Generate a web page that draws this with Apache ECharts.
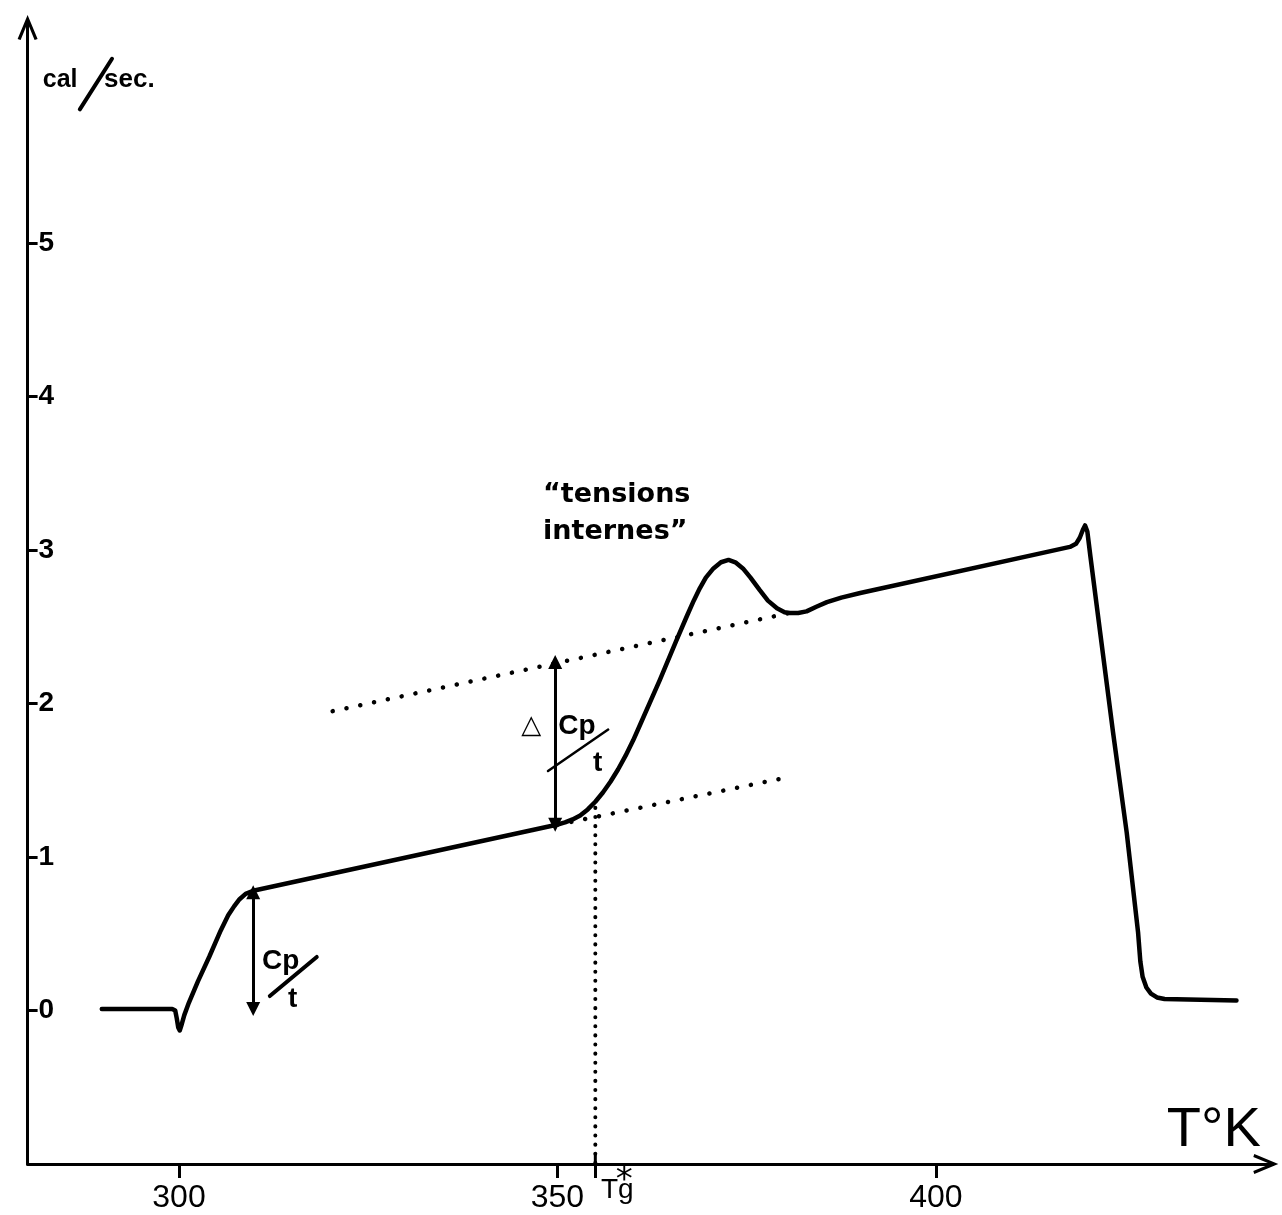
<!DOCTYPE html>
<html>
<head>
<meta charset="utf-8">
<script src="https://cdn.jsdelivr.net/npm/echarts@6/dist/echarts.min.js"></script>
<style>
  html, body { margin: 0; padding: 0; background: #fff; }
  #chart { width: 1282px; height: 1215px; }
</style>
</head>
<body>
<div id="chart"></div>
<script>
// DSC trace: heat flow (cal/sec) against temperature (K)
const temperatureK = [
  289.8, 299.1, 299.5, 299.7, 299.9, 300.1, 300.3, 300.7, 301.3, 302.5, 304.0, 305.5,
  306.5, 307.3, 308.0, 308.8, 309.8, 349.9, 351.0, 352.0, 353.0, 354.0, 355.0, 356.0,
  357.0, 358.0, 359.0, 360.0, 360.9, 363.5, 365.7, 367.1, 368.0, 368.8, 369.6, 370.6,
  371.6, 372.6, 373.5, 374.5, 375.5, 376.7, 377.8, 379.0, 380.0, 380.7, 381.8, 382.9,
  384.2, 385.6, 387.5, 390.0, 417.7, 418.5, 419.0, 419.4, 419.7, 420.0, 420.4, 421.7,
  423.4, 425.2, 426.7, 427.0, 427.3, 427.8, 428.4, 429.2, 430.2, 439.7
];
const heatFlow = [
  0.01, 0.01, 0.00, -0.05, -0.11, -0.13, -0.10, -0.03, 0.05, 0.19, 0.35, 0.52,
  0.62, 0.68, 0.725, 0.76, 0.78, 1.21, 1.225, 1.245, 1.27, 1.31, 1.36, 1.42,
  1.49, 1.57, 1.66, 1.76, 1.86, 2.15, 2.41, 2.57, 2.67, 2.75, 2.82, 2.88,
  2.92, 2.935, 2.92, 2.88, 2.82, 2.74, 2.67, 2.62, 2.595, 2.59, 2.59, 2.60,
  2.63, 2.66, 2.69, 2.72, 3.02, 3.04, 3.08, 3.13, 3.16, 3.12, 2.96, 2.46,
  1.81, 1.16, 0.51, 0.32, 0.22, 0.15, 0.11, 0.085, 0.075, 0.065
];

// Extrapolated baselines (glass below, liquid above)
const glassBaselineT = [350.0, 380.5];
const glassBaselineV = [1.21, 1.52];
const liquidBaselineT = [320.3, 380.7];
const liquidBaselineV = [1.95, 2.59];

// Tg* construction
const tgStar = 355.0;
const tgDropV = [1.32, -1];

// Heat-capacity steps shown as double arrows
const cpStepT = 309.8;
const cpStepV = [0.01, 0.77];
const deltaCpT = 349.7;
const deltaCpV = [2.27, 1.21];

// Axis ticks
const xTickValues = [300, 350, 400];
const yTickValues = [0, 1, 2, 3, 4, 5];

const X_MIN = 280, X_MAX = 444.5, Y_MIN = -1, Y_MAX = 6.45;

const chevron = 'path://M10,0 L20,24 L17,25 L10,8 L3,25 L0,24 Z';
const ink = '#000';
const sans = '"Liberation Sans", Arial, sans-serif';
const wide = '"DejaVu Sans", sans-serif';

const zip = (xs, ys) => xs.map((x, i) => [x, ys[i]]);

const chart = echarts.init(document.getElementById('chart'), null, { renderer: 'canvas' });

const option = {
  animation: false,
  backgroundColor: '#fff',
  grid: { left: 27.6, right: 9.2, top: 20.4, bottom: 51, containLabel: false, outerBoundsMode: 'none' },
  xAxis: {
    type: 'value', min: X_MIN, max: X_MAX,
    axisLine: {
      show: true, onZero: false,
      lineStyle: { color: ink, width: 3 },
      symbol: ['none', chevron], symbolSize: [20, 26], symbolOffset: [0, -7]
    },
    axisTick: {
      show: true, customValues: [300, 350, tgStar, 400], length: 14,
      lineStyle: { color: ink, width: 3 }
    },
    axisLabel: {
      customValues: xTickValues, margin: 18, color: ink,
      fontSize: 32, fontFamily: sans
    },
    splitLine: { show: false }
  },
  yAxis: {
    type: 'value', min: Y_MIN, max: Y_MAX,
    axisLine: {
      show: true, onZero: false,
      lineStyle: { color: ink, width: 3 },
      symbol: ['none', chevron], symbolSize: [20, 26], symbolOffset: [0, -7]
    },
    axisTick: {
      show: true, inside: true, customValues: yTickValues, length: 10,
      lineStyle: { color: ink, width: 3 }
    },
    axisLabel: {
      inside: true, customValues: yTickValues, margin: 11, color: ink,
      fontSize: 28, fontWeight: 'bold', fontFamily: sans
    },
    splitLine: { show: false }
  },
  series: [
    {
      name: 'liquid baseline', type: 'line', data: zip(liquidBaselineT, liquidBaselineV),
      showSymbol: false, silent: true, z: 2,
      lineStyle: { color: ink, width: 4.5, type: [0.1, 14], cap: 'round' }
    },
    {
      name: 'glass baseline', type: 'line', data: zip(glassBaselineT, glassBaselineV),
      showSymbol: false, silent: true, z: 2,
      lineStyle: { color: ink, width: 4.5, type: [0.1, 14], cap: 'round' }
    },
    {
      name: 'Tg drop', type: 'line', data: tgDropV.map(v => [tgStar, v]),
      showSymbol: false, silent: true, z: 2,
      lineStyle: { color: ink, width: 4, type: [0.1, 9], cap: 'round' }
    },
    {
      name: 'Tg tick', type: 'line', data: [[tgStar, Y_MIN], [tgStar, Y_MIN + 0.07]],
      showSymbol: false, silent: true, clip: false, z: 3,
      lineStyle: { color: ink, width: 3 }
    },
    {
      name: 'heat flow', type: 'line', data: zip(temperatureK, heatFlow),
      showSymbol: false, silent: true, smooth: false, z: 4,
      lineStyle: { color: ink, width: 4.5, cap: 'round', join: 'round' }
    },
    {
      name: 'steps', type: 'line', data: [], silent: true, z: 5,
      markLine: {
        silent: true, symbol: ['triangle', 'triangle'], symbolSize: [14, 14],
        label: { show: false },
        lineStyle: { color: ink, width: 3, type: 'solid' },
        emphasis: { disabled: true },
        data: [
          [{ coord: [cpStepT, cpStepV[0]] }, { coord: [cpStepT, cpStepV[1]] }],
          [{ coord: [deltaCpT, deltaCpV[0]] }, { coord: [deltaCpT, deltaCpV[1]] }]
        ]
      }
    }
  ]
};

chart.setOption(option);

// Annotations placed in data space and converted to pixels
const px = (t, v) => chart.convertToPixel({ gridIndex: 0 }, [t, v]);

function label(text, at, font, extra) {
  const p = px(at[0], at[1]);
  return {
    type: 'text', x: p[0], y: p[1], silent: true, z: 10,
    style: Object.assign({ text: text, font: font, fill: ink, align: 'left', verticalAlign: 'middle' }, extra || {})
  };
}
function stroke(a, b, w) {
  const p = px(a[0], a[1]), q = px(b[0], b[1]);
  return {
    type: 'line', silent: true, z: 10,
    shape: { x1: p[0], y1: p[1], x2: q[0], y2: q[1] },
    style: { stroke: ink, lineWidth: w, lineCap: 'round' }
  };
}

const graphics = [
  // y-axis unit
  label('cal', [282.0, 6.06], 'bold 25px ' + sans),
  stroke([286.9, 5.87], [291.15, 6.20], 4),
  label('sec.', [290.1, 6.06], 'bold 26px ' + sans),
  // x-axis unit
  label('T°K', [430.5, -0.78], '56px ' + sans),
  // Tg* marker
  label('Tg', [355.75, -1.17], '28px ' + sans),
  label('*', [357.7, -1.11], '34px ' + wide),
  // Cp / t at the first step
  label('Cp', [310.96, 0.32], 'bold 28px ' + sans),
  stroke([312.0, 0.094], [318.2, 0.349], 4),
  label('t', [314.4, 0.075], 'bold 28px ' + sans),
  // ΔCp / t at Tg
  label('△', [345.2, 1.85], '26px ' + wide),
  label('Cp', [350.1, 1.85], 'bold 28px ' + sans),
  stroke([348.75, 1.56], [356.7, 1.83], 2.5),
  label('t', [354.7, 1.61], 'bold 28px ' + sans),
  // annotation of the overshoot peak
  label('“tensions', [348.1, 3.36], 'bold 27px ' + wide),
  label('internes”', [348.1, 3.12], 'bold 27px ' + wide)
];

chart.setOption({ graphic: { elements: graphics } });
</script>
</body>
</html>
